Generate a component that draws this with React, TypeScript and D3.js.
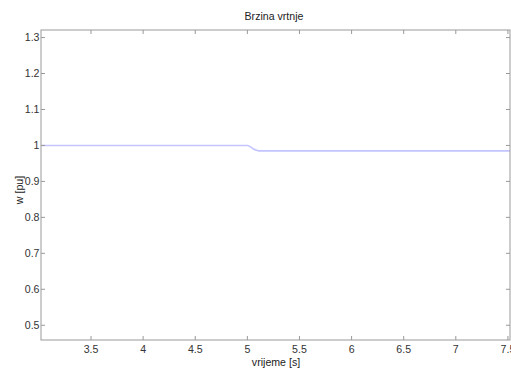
import React from "react";
import * as d3 from "d3";

const timeS = [3.02, 4.9, 5.0, 5.02, 5.04, 5.06, 5.08, 5.1, 5.12, 6.0, 7.0, 7.52];
const speedPu = [1.0, 1.0, 1.0, 0.998, 0.994, 0.99, 0.987, 0.9855, 0.985, 0.985, 0.985, 0.985];
const xTicks = [3.5, 4, 4.5, 5, 5.5, 6, 6.5, 7, 7.5];
const yTicks = [0.5, 0.6, 0.7, 0.8, 0.9, 1, 1.1, 1.2, 1.3];
const xDomain = [3.02, 7.52];
const yDomain = [0.459, 1.321];

const W = 511, H = 371;
const L = 41, R = 510, T = 30, B = 340;

export default function App() {
  const x = d3.scaleLinear().domain(xDomain).range([L, R]);
  const y = d3.scaleLinear().domain(yDomain).range([B, T]);
  const pts = timeS.map((t, i) => [t, speedPu[i]] as [number, number]);
  const line = d3.line<[number, number]>().x(d => x(d[0])).y(d => y(d[1])).curve(d3.curveMonotoneX);
  const axisColor = "#999";
  const font = "Liberation Sans, Arial, sans-serif";
  const fs = 10.6;
  return (
    <svg width={W} height={H} style={{ position: "absolute", left: 0, top: 0, background: "#fff" }} fontFamily={font}>
      <rect x={0} y={0} width={W} height={H} fill="#fff" />
      <path d={line(pts) || ""} fill="none" stroke="#c4c4ff" strokeWidth={1.6} />
      <rect x={L} y={T} width={R - L} height={B - T} fill="none" stroke={axisColor} strokeWidth={1} />
      {xTicks.map(t => (
        <g key={"x" + t}>
          <line x1={x(t)} x2={x(t)} y1={B} y2={B - 4} stroke={axisColor} />
          <line x1={x(t)} x2={x(t)} y1={T} y2={T + 4} stroke={axisColor} />
          <text x={x(t)} y={B + 13} fontSize={fs} textAnchor="middle" fill="#333">{String(t)}</text>
        </g>
      ))}
      {yTicks.map(t => (
        <g key={"y" + t}>
          <line x1={L} x2={L + 4} y1={y(t)} y2={y(t)} stroke={axisColor} />
          <line x1={R} x2={R - 4} y1={y(t)} y2={y(t)} stroke={axisColor} />
          <text x={L - 1.5} y={y(t) + 3.8} fontSize={fs} textAnchor="end" fill="#333">{String(t)}</text>
        </g>
      ))}
      <text x={274} y={20} fontSize={fs} textAnchor="middle" fill="#222">Brzina vrtnje</text>
      <text x={276} y={366} fontSize={fs} textAnchor="middle" fill="#222">vrijeme [s]</text>
      <text transform={`translate(23,190) rotate(-90)`} fontSize={fs} textAnchor="middle" fill="#222">w [pu]</text>
    </svg>
  );
}
